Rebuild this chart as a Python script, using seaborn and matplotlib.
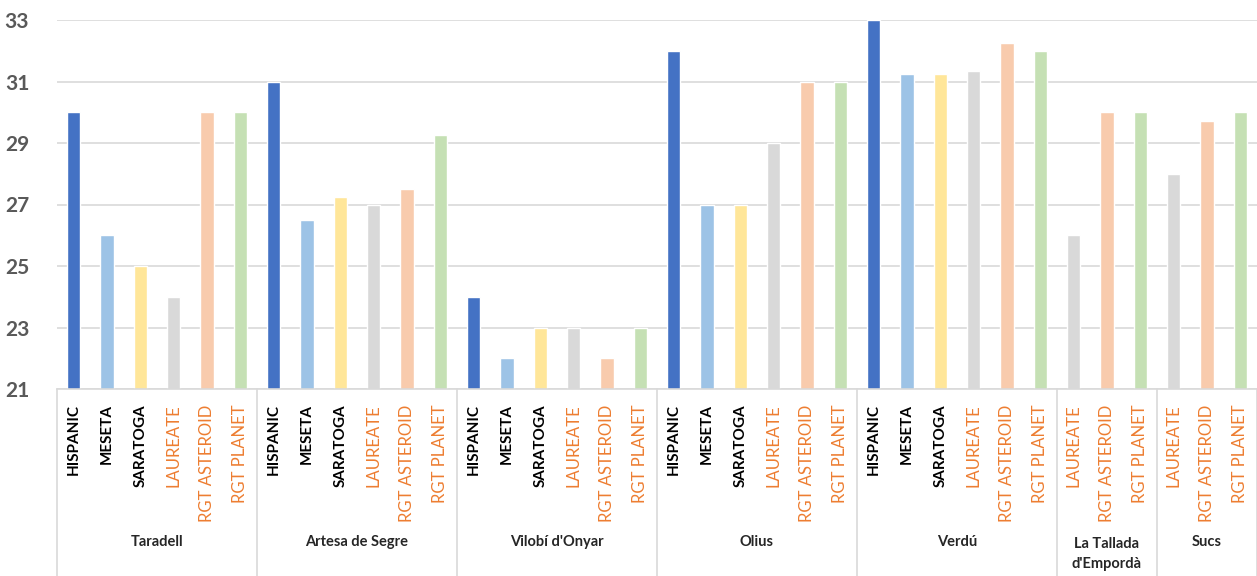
import pandas as pd
import matplotlib
matplotlib.use('Agg')
import matplotlib.pyplot as plt
import seaborn as sns

# data
sites = ["Taradell", "Artesa de Segre", "Vilobí d'Onyar", "Olius", "Verdú",
         "La Tallada\nd'Empordà", "Sucs"]
varieties_all = ["HISPANIC", "MESETA", "SARATOGA", "LAUREATE", "RGT ASTEROID", "RGT PLANET"]
varieties_short = ["LAUREATE", "RGT ASTEROID", "RGT PLANET"]

taradell = [30, 26, 25, 24, 30, 30]
artesa = [31, 26.5, 27.25, 27, 27.5, 29.25]
vilobi = [24, 22, 23, 23, 22, 23]
olius = [32, 27, 27, 29, 31, 31]
verdu = [33, 31.25, 31.25, 31.35, 32.25, 32]
tallada = [26, 30, 30]
sucs = [28, 29.7, 30]

site_values = [taradell, artesa, vilobi, olius, verdu, tallada, sucs]

colors = {"HISPANIC": "#4472C4", "MESETA": "#9DC3E6", "SARATOGA": "#FFE699",
          "LAUREATE": "#D9D9D9", "RGT ASTEROID": "#F8CBAD", "RGT PLANET": "#C5E0B4"}
new_varieties = ["LAUREATE", "RGT ASTEROID", "RGT PLANET"]

rows = []
for site, vals in zip(sites, site_values):
    vars_ = varieties_all if len(vals) == 6 else varieties_short
    for v, val in zip(vars_, vals):
        rows.append({"key": site + "|" + v, "site": site, "variety": v, "value": val})
df = pd.DataFrame(rows)

sns.set_style("white")
plt.rcParams["font.family"] = ["Lato", "DejaVu Sans"]

fig = plt.figure(figsize=(12.57, 5.76), dpi=100)
ax = fig.add_axes([57 / 1257, 1 - 389 / 576, 1 - 57 / 1257, 369 / 576])

sns.barplot(data=df, x="key", y="value", hue="variety", order=list(df.key),
            palette=colors, saturation=1, dodge=False, width=0.4, legend=False, ax=ax)

ax.set_ylim(21, 33)
ax.set_xlim(-0.5, len(df) - 0.5)
ax.set_yticks(range(21, 34, 2))
ax.yaxis.grid(True, color="#D9D9D9", linewidth=1.2)
ax.set_axisbelow(True)
for s in ["top", "right", "left"]:
    ax.spines[s].set_visible(False)
ax.spines["bottom"].set_color("#D9D9D9")
ax.spines["bottom"].set_linewidth(1.2)
ax.tick_params(axis="y", length=0, pad=20, labelsize=15, labelcolor="#595959")
for t in ax.get_yticklabels():
    t.set_fontweight("bold")

ax.set_xticks(range(len(df)))
ax.set_xticklabels(df.variety, rotation=90)
ax.tick_params(axis="x", length=0, pad=11)
for t, v in zip(ax.get_xticklabels(), df.variety):
    if v in new_varieties:
        t.set_color("#ED7D31")
        t.set_fontsize(12)
    else:
        t.set_color("black")
        t.set_fontweight("bold")
        t.set_fontsize(11)
ax.set_xlabel("")
ax.set_ylabel("")

# group separators and site names
trans = ax.get_xaxis_transform()
start = 0
ax.plot([-0.5, -0.5], [0, -0.51], color="#D9D9D9", lw=1.2, transform=trans, clip_on=False)
for site, vals in zip(sites, site_values):
    end = start + len(vals)
    ax.plot([end - 0.5, end - 0.5], [0, -0.51], color="#D9D9D9", lw=1.2,
            transform=trans, clip_on=False)
    ypos = -0.447 if "\n" in site else -0.415
    ax.text((start + end - 1) / 2, ypos, site, transform=trans, ha="center", va="center",
            fontsize=10.5, fontweight="bold", linespacing=1.55)
    start = end

plt.savefig("out.png", dpi=100)
